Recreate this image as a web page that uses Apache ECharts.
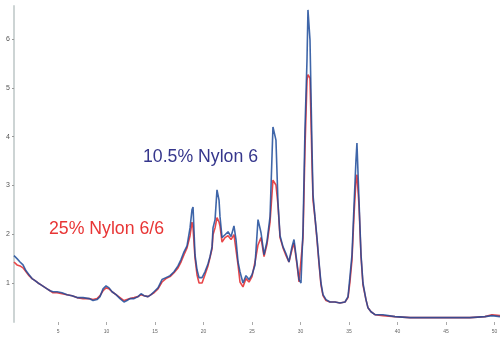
<!DOCTYPE html>
<html>
<head>
<meta charset="utf-8">
<script src="https://cdn.jsdelivr.net/npm/echarts@6/dist/echarts.min.js"></script>
<style>
  html, body { margin: 0; padding: 0; background: #fff; }
  #chart { width: 504px; height: 339px; }
</style>
</head>
<body>
<div id="chart"></div>
<script>
// retention positions
var xs = [0.46, 0.77, 1.08, 1.39, 1.70, 2.01, 2.32, 2.63, 2.94, 3.25, 3.56, 3.87, 4.18, 4.48, 4.90,
  5.41, 5.93, 6.44, 6.96, 7.58, 8.20, 8.61, 9.02, 9.33, 9.64, 9.95, 10.26, 10.57, 10.98, 11.39,
  11.80, 12.11, 12.42, 12.84, 13.25, 13.56, 13.87, 14.28, 14.59, 14.90, 15.31, 15.72, 16.13, 16.55,
  16.96, 17.37, 17.68, 17.99, 18.30, 18.61, 18.81, 18.92, 19.12, 19.33, 19.54, 19.85, 20.15, 20.46,
  20.67, 20.88, 20.98, 21.19, 21.39, 21.60, 21.70, 21.91, 22.22, 22.53, 22.84, 23.14, 23.35, 23.56,
  23.76, 24.07, 24.38, 24.69, 25.00, 25.31, 25.62, 25.93, 26.24, 26.55, 26.86, 27.16, 27.47, 27.68,
  27.89, 28.20, 28.51, 28.81, 29.12, 29.33, 29.64, 29.85, 30.05, 30.26, 30.46, 30.67, 30.77, 30.98,
  31.19, 31.29, 31.49, 31.70, 31.91, 32.11, 32.32, 32.63, 33.04, 33.56, 34.07, 34.59, 34.90, 35.10,
  35.31, 35.52, 35.72, 35.82, 36.03, 36.24, 36.44, 36.75, 36.96, 37.27, 37.68, 38.51, 39.74, 41.29,
  43.35, 45.41, 47.47, 49.02, 49.74, 50.57];

var nylon6 = [1.56, 1.50, 1.43, 1.37, 1.25, 1.17, 1.09, 1.05, 1.00, 0.96, 0.92, 0.88, 0.84, 0.82, 0.82,
  0.80, 0.76, 0.74, 0.70, 0.70, 0.68, 0.64, 0.66, 0.72, 0.88, 0.94, 0.90, 0.82, 0.76, 0.68,
  0.61, 0.64, 0.68, 0.68, 0.72, 0.78, 0.74, 0.72, 0.76, 0.82, 0.90, 1.07, 1.11, 1.15,
  1.23, 1.35, 1.48, 1.64, 1.76, 2.13, 2.50, 2.56, 1.58, 1.27, 1.11, 1.11, 1.23, 1.39,
  1.54, 1.74, 2.13, 2.30, 2.91, 2.70, 2.36, 1.93, 1.99, 2.05, 1.95, 2.17, 1.89, 1.43,
  1.23, 1.00, 1.15, 1.07, 1.17, 1.37, 2.30, 2.03, 1.58, 1.86, 2.36, 4.20, 3.93, 2.64,
  1.97, 1.74, 1.60, 1.43, 1.74, 1.89, 1.41, 1.07, 1.00, 2.09, 4.14, 5.57, 6.60, 5.98,
  3.73, 2.81, 2.36, 1.93, 1.43, 1.00, 0.76, 0.66, 0.61, 0.61, 0.59, 0.61, 0.72, 1.13,
  1.58, 2.60, 3.52, 3.87, 2.70, 1.58, 1.00, 0.66, 0.49, 0.41, 0.35, 0.35, 0.31, 0.29,
  0.29, 0.29, 0.29, 0.31, 0.33, 0.31];

var nylon66 = [1.43, 1.37, 1.35, 1.31, 1.23, 1.15, 1.09, 1.05, 1.00, 0.96, 0.92, 0.88, 0.84, 0.80, 0.80,
  0.78, 0.76, 0.74, 0.70, 0.68, 0.68, 0.66, 0.68, 0.74, 0.84, 0.90, 0.88, 0.82, 0.76, 0.70,
  0.64, 0.66, 0.68, 0.70, 0.72, 0.76, 0.74, 0.72, 0.76, 0.80, 0.88, 1.02, 1.09, 1.13,
  1.21, 1.31, 1.43, 1.58, 1.72, 1.97, 2.25, 2.13, 1.52, 1.17, 1.00, 1.00, 1.17, 1.35,
  1.52, 1.70, 1.99, 2.13, 2.34, 2.25, 2.17, 1.84, 1.93, 1.97, 1.89, 1.99, 1.68, 1.37,
  1.02, 0.92, 1.09, 1.02, 1.13, 1.43, 1.78, 1.93, 1.54, 1.80, 2.25, 3.11, 3.01, 2.60,
  1.93, 1.72, 1.56, 1.43, 1.68, 1.82, 1.37, 1.02, 0.98, 1.93, 3.73, 5.16, 5.27, 5.20,
  3.42, 2.70, 2.34, 1.89, 1.39, 0.96, 0.74, 0.64, 0.61, 0.61, 0.59, 0.61, 0.70, 1.02,
  1.48, 2.40, 3.11, 3.22, 2.60, 1.54, 0.96, 0.66, 0.49, 0.41, 0.35, 0.33, 0.31, 0.29,
  0.29, 0.29, 0.29, 0.31, 0.35, 0.33];

var xTicks = [5, 10, 15, 20, 25, 30, 35, 40, 45, 50];
var yTicks = [1, 2, 3, 4, 5, 6];

var chart = echarts.init(document.getElementById("chart"));

chart.setOption({
  animation: false,
  backgroundColor: "#fff",
  grid: { left: 14, right: 4, top: 6, bottom: 17 },
  xAxis: {
    type: "value",
    min: 0.46,
    max: 50.57,
    axisLine: { show: false },
    splitLine: { show: false },
    axisTick: { show: true, customValues: xTicks, length: 3, lineStyle: { color: "#aaa" } },
    axisLabel: {
      customValues: xTicks,
      color: "#666",
      fontSize: 5,
      margin: 7,
      fontFamily: "Liberation Sans"
    }
  },
  yAxis: {
    type: "value",
    min: 0.2,
    max: 6.68,
    axisLine: { show: true, lineStyle: { color: "#cdd4d4", width: 2 } },
    splitLine: { show: false },
    axisTick: { show: true, customValues: yTicks, length: 2, lineStyle: { color: "#999" } },
    axisLabel: {
      customValues: yTicks,
      color: "#555",
      fontSize: 7,
      margin: 4,
      fontFamily: "Liberation Sans"
    }
  },
  graphic: [
    {
      type: "text",
      left: 143,
      top: 148,
      style: {
        text: "10.5% Nylon 6",
        fill: "#35368c",
        font: "17.7px 'Liberation Sans'"
      }
    },
    {
      type: "text",
      left: 49,
      top: 220,
      style: {
        text: "25% Nylon 6/6",
        fill: "#e83535",
        font: "17.7px 'Liberation Sans'"
      }
    }
  ],
  series: [
    {
      name: "25% Nylon 6/6",
      type: "line",
      showSymbol: false,
      data: xs.map(function (x, i) { return [x, nylon66[i]]; }),
      lineStyle: { color: "#e8474a", width: 1.6 }
    },
    {
      name: "10.5% Nylon 6",
      type: "line",
      showSymbol: false,
      data: xs.map(function (x, i) { return [x, nylon6[i]]; }),
      lineStyle: { color: "#1d4b9a", width: 1.6, opacity: 0.85 }
    }
  ]
});
</script>
</body>
</html>
